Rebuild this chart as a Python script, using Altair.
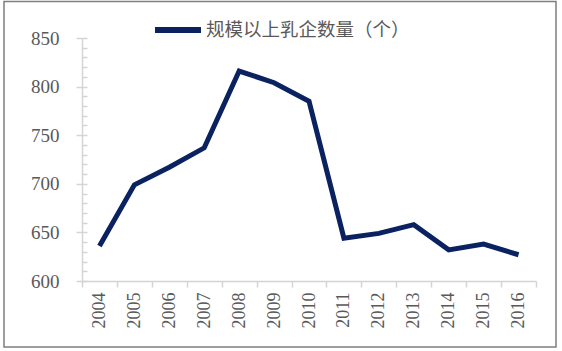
import altair as alt
import pandas as pd

years = ["2004", "2005", "2006", "2007", "2008", "2009", "2010",
         "2011", "2012", "2013", "2014", "2015", "2016"]
counts = [636, 699, 717, 737, 816, 804, 785, 644, 649, 658, 632, 638, 627]
series_name = "规模以上乳企数量（个）"
y_major = [600, 650, 700, 750, 800, 850]
y_minor = list(range(600, 851, 10))

df = pd.DataFrame({"year": years, "count": counts, "series": [series_name] * len(years)})

AX = "#D4D4D4"
LAB = "#595959"
SERIF = "Liberation Serif"

x_enc = alt.X("year:N", scale=alt.Scale(type="band", paddingInner=0, paddingOuter=0),
              bandPosition=0.5,
              axis=alt.Axis(title=None, labelAngle=-90, labelFont=SERIF, labelFontSize=18,
                            labelColor=LAB, domainColor=AX, tickColor=AX, tickSize=6,
                            tickBand="extent", labelPadding=5, domainWidth=1.5, tickWidth=1.5))

line = alt.Chart(df).mark_line(strokeWidth=5, strokeCap="butt", strokeJoin="miter").encode(
    x=x_enc,
    y=alt.Y("count:Q", scale=alt.Scale(domain=[600, 850], nice=False, zero=False),
            axis=alt.Axis(title=None, values=y_major, labelFont=SERIF, labelFontSize=19,
                          labelColor=LAB, domainColor=AX, tickColor=AX, tickSize=6,
                          labelPadding=17, orient="left", grid=False, domainWidth=1.5, tickWidth=1.5)),
    color=alt.Color("series:N", scale=alt.Scale(range=["#0B2260"]),
                    legend=alt.Legend(title=None, orient="none", legendX=70, legendY=-34,
                                      symbolType="stroke", symbolSize=2116, symbolStrokeWidth=6,
                                      labelFont="Noto Sans CJK SC", labelFontSize=18.5,
                                      labelColor=LAB, labelOffset=2, labelLimit=400)),
)

minor = alt.Chart(df).mark_point(opacity=0).encode(
    y=alt.Y("count:Q", scale=alt.Scale(domain=[600, 850], nice=False, zero=False),
            axis=alt.Axis(title=None, values=y_minor, labels=False, domain=False,
                          tickColor=AX, tickSize=5, offset=-5, orient="left", grid=False,
                          tickWidth=1.5)),
)

frame = alt.Chart(pd.DataFrame({"a": [0]})).mark_rect(fill=None, stroke="#7F7F7F", strokeWidth=1.5).encode(
    x=alt.value(-78), x2=alt.value(474), y=alt.value(-36.5), y2=alt.value(309)
)

chart = alt.layer(line, minor, frame).resolve_axis(y="independent").properties(
    width=454, height=243,
    background="white",
    autosize=alt.AutoSizeParams(type="none"),
    padding={"left": 82, "top": 38, "right": 26, "bottom": 70},
).configure_view(stroke=None)

chart.save("out.html", embed_options={"renderer": "svg", "actions": False})
